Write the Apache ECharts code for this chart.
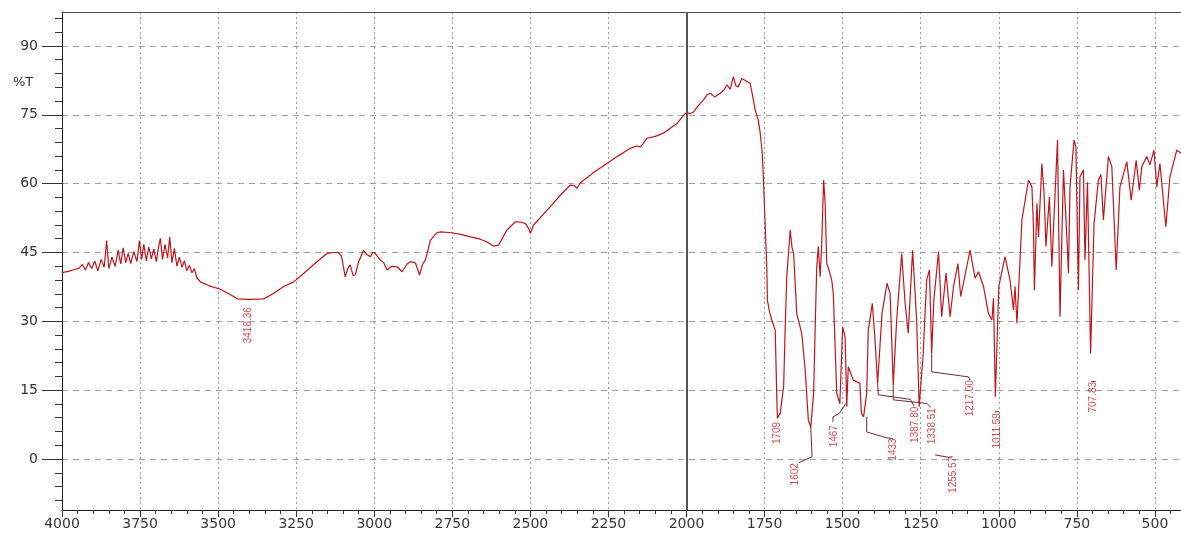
<!DOCTYPE html>
<html><head><meta charset="utf-8">
<script src="https://cdn.jsdelivr.net/npm/echarts@6/dist/echarts.min.js"></script>
<style>html,body{margin:0;padding:0;background:#fff}#c{width:1181px;height:537px}</style>
</head><body><div id="c"></div>
<script>
// ---- tick labels ----
const xTickLabels = [4000,3750,3500,3250,3000,2750,2500,2250,2000,1750,1500,1250,1000,750,500];
const yTickLabels = [0,15,30,45,60,75,90];
const yMinorTicks = [-9,-6,-3,3,6,9,12,18,21,24,27,33,36,39,42,48,51,54,57,63,66,69,72,78,81,84,87,93,96];
const yAxisTitle = '%T';

// ---- spectrum: wavenumber (cm-1) ----
const wavenumber = [4000,3980,3960,3945,3935,3925,3915,3905,3895,3885,3875,3865,3857,3850,3840,3830,3820,3812,3804,3796,3788,3780,3770,3760,3752,3745,3738,3730,3722,3714,3706,3698,3690,3685,3678,3670,3662,3655,3648,3640,3632,3624,3616,3608,3600,3592,3584,3576,3568,3557,3530,3493,3460,3439,3400,3354,3320,3290,3258,3220,3180,3151,3130,3115,3105,3093,3085,3077,3068,3061,3050,3034,3025,3012,3005,2997,2981,2970,2959,2945,2927,2911,2895,2884,2868,2855,2845,2836,2820,2800,2788,2751,2720,2692,2660,2639,2618,2602,2575,2548,2530,2516,2505,2500,2490,2436,2400,2372,2360,2351,2340,2300,2255,2220,2180,2160,2148,2140,2127,2100,2074,2050,2031,2010,2004,1988,1978,1965,1956,1946,1935,1924,1910,1892,1880,1871,1860,1850,1842,1834,1823,1810,1796,1788,1780,1770,1764,1758,1754,1748,1743,1741,1734,1727,1716,1711,1709,1700,1689,1684,1679,1668,1662,1657,1647,1631,1620,1610,1602,1593,1588,1583,1578,1572,1567,1561,1556,1551,1545,1535,1530,1519,1509,1500,1492,1487,1482,1466,1445,1440,1433,1423,1418,1405,1397,1388,1374,1358,1348,1338,1327,1311,1300,1290,1276,1263,1255,1242,1231,1222,1215,1208,1193,1183,1169,1156,1145,1131,1122,1108,1092,1076,1065,1049,1033,1022,1017,1011,1000,980,964,953,948,942,937,926,905,894,889,886,878,873,862,855,849,838,830,825,812,804,793,782,777,772,759,753,745,740,729,724,716,706,695,681,673,665,649,638,624,612,590,576,560,550,542,526,516,503,494,484,465,452,430,416];
// ---- spectrum: transmittance (%T) ----
const transmittance = [40.6,40.9,41.3,41.6,42.4,41.2,42.8,41.5,43.1,41.0,43.5,41.8,47.6,41.5,44.0,42.0,45.5,42.5,46.0,42.8,44.8,42.6,45.2,43.0,47.6,43.5,46.8,43.2,46.2,43.6,45.8,43.0,46.5,48.1,43.5,46.8,43.8,48.4,42.8,45.9,42.0,44.0,41.8,43.2,41.0,42.2,40.6,41.5,39.5,38.6,37.8,37.0,35.8,34.9,34.8,34.9,36.2,37.6,38.6,40.8,43.2,44.8,45.0,45.0,44.2,39.7,41.5,42.3,40.0,40.1,43.0,45.5,44.6,44.1,45.0,44.8,43.4,42.8,41.2,42.0,41.9,40.8,42.5,43.0,42.7,40.1,42.5,43.4,47.7,49.3,49.5,49.3,48.9,48.4,47.9,47.3,46.4,46.6,49.9,51.7,51.6,51.3,50.2,49.2,51.0,55.0,57.8,59.7,59.6,59.0,60.2,62.3,64.4,66.0,67.7,68.2,68.0,68.6,69.9,70.3,71.0,72.2,73.1,74.8,75.3,75.3,75.6,76.8,77.5,78.2,79.3,79.7,78.9,79.7,80.4,81.5,80.6,83.3,81.3,81.1,82.9,82.4,81.8,79.0,76.0,73.8,71.0,67.0,61.5,50.6,41.9,34.6,32.0,30.3,28.1,13.6,8.9,10.0,15.8,28.8,39.7,49.9,46.0,44.8,31.7,27.4,19.4,8.5,7.0,14.3,28.8,41.9,46.3,39.7,47.0,60.8,55.7,42.6,41.5,39.0,36.1,14.3,12.1,28.8,26.6,11.4,20.1,17.2,16.5,10.0,9.2,14.3,28.1,33.9,26.6,16.5,31.7,38.3,36.1,16.1,30.3,44.8,33.9,27.4,45.5,30.3,11.4,23.0,39.0,41.2,23.0,34.6,45.2,31.0,40.5,31.0,37.6,42.6,35.4,40.1,45.5,39.4,40.8,37.6,31.7,30.3,35.0,13.6,37.6,44.1,39.0,32.5,37.6,29.6,36.1,52.1,60.8,59.3,50.6,36.8,55.7,48.4,64.4,57.9,46.3,57.1,41.9,49.9,69.5,31.0,63.0,48.4,40.5,59.3,69.5,68.0,36.8,61.5,63.0,43.4,60.3,23.0,51.3,60.8,62.0,52.1,65.9,63.7,41.2,59.3,64.8,56.4,65.1,58.6,63.7,65.9,64.1,67.3,59.3,64.4,50.6,61.5,67.3,66.6];

// ---- peak annotations ----
const peakLabels = ['3418.36','1709','1602','1467','1433','1387.80','1338.51','1255.57','1217.00','1011.59','707.83'];
const peakLabelWn = [3403,1710,1652,1526,1337,1268,1214,1145,1092,1006,697];
const peakLabelT  = [33.1,8.1,-0.9,7.4,4.5,11.4,11.1,0.5,17.2,10.0,16.8];
// leader lines, [wn, %T] pairs, from the band to its label
const leaderLines = [
  [[1602,7.0],[1598,0.5],[1640,-0.8]],
  [[1490,12.1],[1510,10.0],[1531,9.2],[1531,8.1]],
  [[1423,9.2],[1423,5.9],[1358,4.6],[1340,4.5]],
  [[1388,16.5],[1386,14.0],[1283,13.0],[1272,11.6]],
  [[1338,16.1],[1338,12.9],[1230,12.1],[1218,11.3]],
  [[1204,0.9],[1162,0.4],[1148,0.5]],
  [[1215,23.0],[1215,19.0],[1097,17.9],[1092,17.2]],
  [[1013,10.3],[999,10.3]],
  [[704,16.9],[690,16.9]]
];
const markedWavenumber = 2000;
const xRange = [416.5, 4000];
const yRange = [-11.1, 97.4];

// minor x ticks every 50 between the labelled ones
const xMinorTicks = [];
for (let v = 450; v < 4000; v += 50) if (!xTickLabels.includes(v)) xMinorTicks.push(v);

const spectrum = wavenumber.map((w, i) => [w, transmittance[i]]);
const labelPoints = peakLabels.map((t, i) => [peakLabelWn[i], peakLabelT[i], t]);

const chart = echarts.init(document.getElementById('c'), null, {renderer: 'canvas'});
const series = [{
  type: 'line', data: spectrum, showSymbol: false, symbol: 'none',
  lineStyle: {color: '#c0141c', width: 1.2}, z: 4, clip: true,
  markLine: {
    silent: true, symbol: 'none', label: {show: false},
    lineStyle: {color: '#555', width: 2, type: 'solid'},
    data: [{xAxis: markedWavenumber}]
  }
}];
leaderLines.forEach(seg => series.push({
  type: 'line', data: seg, showSymbol: false, symbol: 'none',
  lineStyle: {color: '#6e2a2a', width: 1}, z: 3
}));
series.push({
  type: 'scatter', data: labelPoints, symbolSize: 0, z: 5,
  label: {
    show: true, position: 'inside', rotate: 90, align: 'right', verticalAlign: 'middle',
    formatter: p => p.data[2], color: '#c81e24', fontSize: 10, fontFamily: 'Liberation Sans'
  }
});

const xCommon = {type: 'value', min: xRange[0], max: xRange[1], inverse: true};
chart.setOption({
  animation: false,
  backgroundColor: '#fff',
  grid: {left: 62, top: 12, width: 1119, height: 498, show: false, outerBoundsMode: 'none', containLabel: false},
  graphic: [{type: 'text', left: 13, top: 76, style: {text: yAxisTitle, fontSize: 13, fill: '#333', fontFamily: 'DejaVu Sans'}}],
  xAxis: [Object.assign({}, xCommon, {
    position: 'bottom',
    axisLine: {show: true, onZero: false, lineStyle: {color: '#222', width: 1}},
    axisTick: {show: true, length: 7, customValues: xTickLabels, lineStyle: {color: '#333'}},
    axisLabel: {customValues: xTickLabels, margin: 7, fontSize: 14, color: '#333', fontFamily: 'DejaVu Sans',
      formatter: v => String(Math.round(v))},
    splitLine: {show: true, lineStyle: {color: '#9a9a9a', type: [2, 3], width: 1}}
  }), Object.assign({}, xCommon, {
    position: 'bottom',
    axisLine: {show: false, onZero: false},
    axisTick: {show: true, length: 4, customValues: xMinorTicks, lineStyle: {color: '#333'}},
    axisLabel: {show: false, customValues: xMinorTicks},
    splitLine: {show: false}
  }), Object.assign({}, xCommon, {
    position: 'top',
    axisLine: {show: true, onZero: false, lineStyle: {color: '#555', width: 1}},
    axisTick: {show: false}, axisLabel: {show: false}, splitLine: {show: false}
  })],
  yAxis: [{
    type: 'value', min: yRange[0], max: yRange[1], position: 'left',
    axisLine: {show: true, onZero: false, lineStyle: {color: '#222'}},
    axisTick: {show: true, length: 20, customValues: yTickLabels, lineStyle: {color: '#333'}},
    axisLabel: {customValues: yTickLabels, margin: 24, fontSize: 14, color: '#333', fontFamily: 'DejaVu Sans',
      formatter: v => String(Math.round(v))},
    splitLine: {show: true, lineStyle: {color: '#a0a0a0', type: [6, 5], width: 1}}
  }, {
    type: 'value', min: yRange[0], max: yRange[1], position: 'left',
    axisLine: {show: false, onZero: false},
    axisTick: {show: true, length: 7, customValues: yMinorTicks, lineStyle: {color: '#333'}},
    axisLabel: {show: false, customValues: yMinorTicks},
    splitLine: {show: false}
  }],
  series: series
});
</script></body></html>
